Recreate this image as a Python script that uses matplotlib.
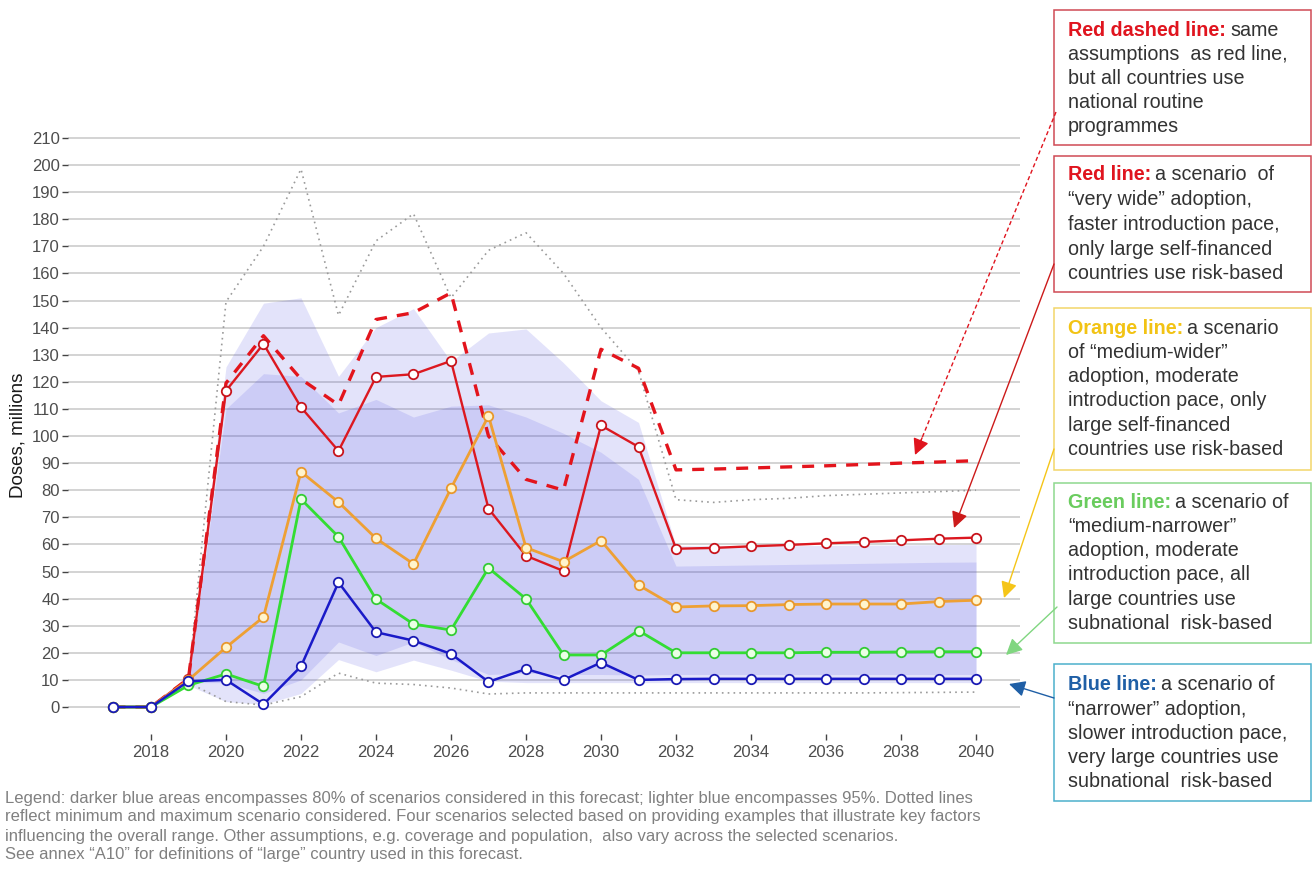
import matplotlib
matplotlib.use('Agg')
import matplotlib.pyplot as plt
from matplotlib import font_manager
from matplotlib.patches import Rectangle, FancyArrowPatch
from matplotlib.lines import Line2D
from matplotlib.text import Annotation

# Data (doses, millions)
years = list(range(2017, 2041))
blue = [0, 0, 9.5, 10, 1, 15, 46, 27.6, 24.5, 19.6, 9.3, 14, 10, 16.4, 10,
        10.3, 10.4, 10.4, 10.4, 10.4, 10.4, 10.4, 10.4, 10.4]
green = [0, 0, 8, 12.2, 7.6, 76.7, 62.8, 39.8, 30.6, 28.4, 51.3, 39.9, 19.2, 19.2, 28.2,
         20, 20, 20, 20, 20.2, 20.2, 20.3, 20.4, 20.4]
orange = [0, 0, 10, 22, 33.2, 86.8, 75.6, 62.2, 52.8, 80.7, 107.4, 58.8, 53.6, 61.4, 45,
          36.9, 37.3, 37.4, 37.8, 38, 38, 38, 38.9, 39.4]
red = [0, 0, 10.5, 116.7, 134, 110.6, 94.5, 121.8, 122.8, 127.7, 73.2, 55.8, 50.2, 103.9, 96,
       58.4, 58.7, 59.3, 59.8, 60.4, 60.9, 61.5, 62.1, 62.5]
red_dashed = [0, 0, 10.5, 119.5, 137, 121, 111.5, 143, 145.5, 152.8, 100, 84, 80, 132, 125,
              87.5, 87.8, 88.2, 88.6, 89, 89.5, 90, 90.4, 90.9]
max_dotted = [0, 0, 10, 149.5, 170, 198.5, 144.5, 172, 182, 151, 168.5, 175, 160, 140, 124,
              76.5, 75.5, 76.5, 77, 78, 78.5, 79, 79.5, 80]
min_dotted = [0, 0, 9, 2, 0.7, 3.8, 12.5, 8.8, 8.3, 7, 4.8, 5.2, 5.2, 5.2, 5.2,
              5.2, 5.2, 5.2, 5.2, 5.2, 5.2, 5.3, 5.4, 5.5]

band_years = list(range(2019, 2041))
light_hi = [10, 125.5, 149, 151, 122, 140, 147, 127.5, 138, 139.5, 127, 113, 105,
            59.5, 59.5, 59.5, 59.5, 59.6, 59.7, 59.8, 59.9, 60]
light_lo = [8, 2, 1, 5, 17.5, 13, 17.3, 13.6, 9.5, 9, 9, 9, 9,
            9, 9, 9, 9, 9, 9, 9, 9, 9]
dark_hi = [10, 110, 123, 122, 108.5, 113.5, 107, 111, 111.5, 107, 101, 94, 84,
           52, 52.2, 52.4, 52.6, 52.8, 53, 53.2, 53.4, 53.5]
dark_lo = [9, 9, 5, 10, 24, 19, 24, 17.5, 12, 12.5, 12, 12, 11.8,
           12, 12, 12, 12, 12, 12, 12, 12, 12]

y_ticks = list(range(0, 211, 10))
x_ticks = list(range(2018, 2041, 2))

legend_lines = [
    "Legend: darker blue areas encompasses 80% of scenarios considered in this forecast; "
    "lighter blue encompasses 95%. Dotted lines",
    "reflect minimum and maximum scenario considered. Four scenarios selected based on "
    "providing examples that illustrate key factors",
    "influencing the overall range. Other assumptions, e.g. coverage and population,  "
    "also vary across the selected scenarios.",
    "See annex \u201cA10\u201d for definitions of \u201clarge\u201d country used in this forecast.",
]

box_bold = ["Red dashed line:", "Red line:", "Orange line:", "Green line:", "Blue line:"]
box_first = ["same", "a scenario  of", "a scenario", "a scenario of", "a scenario of"]
box_rest = [
    ["assumptions  as red line,", "but all countries use", "national routine", "programmes"],
    ["\u201cvery wide\u201d adoption,", "faster introduction pace,",
     "only large self-financed", "countries use risk-based"],
    ["of \u201cmedium-wider\u201d", "adoption, moderate", "introduction pace, only",
     "large self-financed", "countries use risk-based"],
    ["\u201cmedium-narrower\u201d", "adoption, moderate", "introduction pace, all",
     "large countries use", "subnational  risk-based"],
    ["\u201cnarrower\u201d adoption,", "slower introduction pace,",
     "very large countries use", "subnational  risk-based"],
]

W, H = 1313, 869


def fx(x):
    return x / W


def fy(y):
    return 1 - y / H


plt.rcParams['font.family'] = ['Liberation Sans', 'DejaVu Sans']

fig = plt.figure(figsize=(W / 100, H / 100), dpi=100)
ax = fig.add_axes([fx(68), fy(734.1), (1020 - 68) / W, (734.1 - 110.8) / H])

# Scenario ranges
band_col = '#2a2ae0'
ax.fill_between(band_years, light_lo, light_hi, color=band_col, alpha=0.13, lw=0)
ax.fill_between(band_years, dark_lo, dark_hi, color=band_col, alpha=0.12, lw=0)

# Min / max scenarios
ax.plot(years, max_dotted, color='#9a9a9a', lw=1.2, ls=(0, (1, 2.5)))
ax.plot(years, min_dotted, color='#9a9a9a', lw=1.2, ls=(0, (1, 2.5)))

# Selected scenarios
ax.plot(years, red_dashed, color='#e3141c', lw=2.4, ls=(0, (3.6, 3.0)))
series = [
    (red, '#dc1820', '#c8141c', 'white', 1.7),
    (orange, '#eea034', '#e8982c', '#fff4cc', 2.0),
    (green, '#33dd33', '#33cc33', '#eaffe4', 2.0),
    (blue, '#1a1ac8', '#1a1ab4', 'white', 1.8),
]
for vals, col, edge, face, lw in series:
    ax.plot(years, vals, color=col, lw=lw, marker='o', markersize=6.8,
            markerfacecolor=face, markeredgecolor=edge, markeredgewidth=1.3)

ax.set_xlim(2015.787, 2041.173)
ax.set_ylim(-10, 220)
ax.set_yticks(y_ticks)
ax.set_xticks(x_ticks)
ax.yaxis.grid(True, color='#d3d3d3', lw=1.4)
ax.xaxis.grid(False)
ax.set_axisbelow(True)
for s in ax.spines.values():
    s.set_visible(False)
ax.tick_params(axis='both', length=4, width=1, color='#444444',
               labelcolor='#4d4d4d', labelsize=12)
ax.tick_params(axis='y', pad=2)
ax.tick_params(axis='x', pad=4)

fig.text(fx(18), fy(435), "Doses, millions", rotation=90, ha='center', va='center',
         fontsize=13.5, color='#1a1a1a')

# Annotation boxes on the right
box_tops = [10, 156, 308, 483, 664]
box_bottoms = [145, 292, 470, 643, 801]
box_first_y = [30, 175, 328, 502.7, 685]
box_step = [24.2, 24.7, 24.3, 24.1, 24.2]
box_edge = ['#cf4a55', '#cf4a55', '#f2d66a', '#8ed88e', '#4bb0cc']
bold_col = ['#e0141e', '#e0141e', '#f2c314', '#6acc5e', '#1f5fa6']
body_col = '#333333'
fs = 14.2

for i in range(5):
    rect = Rectangle((fx(1054), fy(box_bottoms[i])), (1311 - 1054) / W,
                     (box_bottoms[i] - box_tops[i]) / H, transform=fig.transFigure,
                     facecolor='white', edgecolor=box_edge[i], lw=1.1)
    fig.add_artist(rect)
    bt = fig.text(fx(1068), fy(box_first_y[i]), box_bold[i], ha='left', va='center',
                  fontsize=fs, fontweight='bold', color=bold_col[i])
    rest = Annotation(box_first[i], xy=(1, 0.5), xycoords=bt, xytext=(3, 0),
                      textcoords='offset points', ha='left', va='center',
                      fontsize=fs, color=body_col)
    fig.add_artist(rest)
    for j, line in enumerate(box_rest[i]):
        fig.text(fx(1068), fy(box_first_y[i] + (j + 1) * box_step[i]), line,
                 ha='left', va='center', fontsize=fs, color=body_col)

# Arrows from boxes to lines (pixel coordinates)
arrows = [
    ((1056, 112), (915, 455), '#e0141e', '--'),
    ((1054, 264), (954, 528), '#cc1a1a', '-'),
    ((1054, 449), (1004, 598), '#f5c518', '-'),
    ((1057, 607), (1006, 655), '#80d680', '-'),
    ((1054, 698), (1009, 684), '#1f5fa6', '-'),
]
for (x0, y0), (x1, y1), col, ls in arrows:
    if ls == '--':
        fig.add_artist(Line2D([fx(x0), fx(x1 + (x0 - x1) * 0.04)],
                              [fy(y0), fy(y1 + (y0 - y1) * 0.04)],
                              transform=fig.transFigure, color=col, lw=1.0,
                              ls=(0, (3, 2))))
        start = (fx(x1 + (x0 - x1) * 0.05), fy(y1 + (y0 - y1) * 0.05))
    else:
        start = (fx(x0), fy(y0))
    arr = FancyArrowPatch(start, (fx(x1), fy(y1)), transform=fig.transFigure,
                          arrowstyle='-|>,head_length=0.7,head_width=0.35',
                          mutation_scale=14, color=col, lw=1.0,
                          shrinkA=0, shrinkB=0)
    fig.add_artist(arr)

# Footnote legend (fit width to the reference)
names = {f.name for f in font_manager.fontManager.ttflist}
foot_font = 'Liberation Sans Narrow' if 'Liberation Sans Narrow' in names else 'Liberation Sans'
foot_y = [798, 817, 836, 855]
foot = [fig.text(fx(5), fy(y), line, ha='left', va='center', fontsize=11,
                 family=[foot_font, 'DejaVu Sans'], color='#808080')
        for y, line in zip(foot_y, legend_lines)]
renderer = fig.canvas.get_renderer()
w = foot[1].get_window_extent(renderer).width
scale = 969 / w
for t in foot:
    t.set_fontsize(11 * scale)

fig.savefig('out.png', dpi=100)
